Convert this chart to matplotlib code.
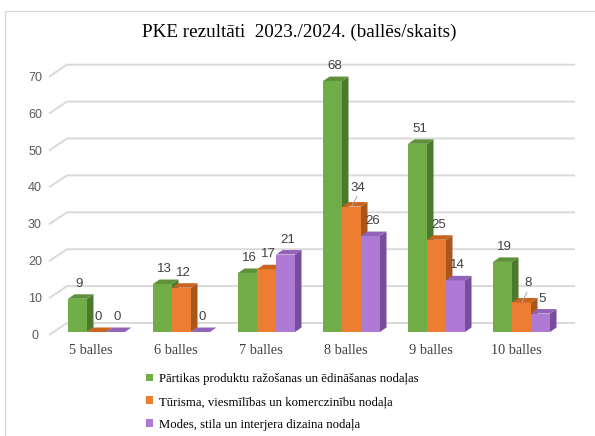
import matplotlib
matplotlib.use("Agg")
import matplotlib.pyplot as plt
from matplotlib.patches import Polygon, Patch, Rectangle

# data
categories = ["5 balles", "6 balles", "7 balles", "8 balles", "9 balles", "10 balles"]
series_names = ["Pārtikas produktu ražošanas un ēdināšanas nodaļas",
                "Tūrisma, viesmīlības un komerczinību nodaļa",
                "Modes, stila un interjera dizaina nodaļa"]
partika = [9, 13, 16, 68, 51, 19]
turisms = [0, 12, 17, 34, 25, 8]
modes = [0, 0, 21, 26, 14, 5]
y_ticks = [0, 10, 20, 30, 40, 50, 60, 70]

# labels pulled away from the bar top with a small leader line
leader_labels = [(1, 3), (1, 5)]   # (series, category)

front_cols = ["#70AD47", "#ED7D31", "#AE7AD6"]
side_cols = ["#4B7A2E", "#A9561D", "#7A4C9C"]
top_cols = ["#5E9139", "#C9631F", "#9263B8"]

W, H = 595, 436
PXX = 85.0      # pixels per category
PXY = 3.69      # pixels per value unit
X0 = 96.5       # pixel x of first group centre
Y0 = 332.0      # pixel y of value 0 (front)


def dx(p):
    return p / PXX


def dy(p):
    return p / PXY


fig = plt.figure(figsize=(W / 100, H / 100), dpi=100)
ax = fig.add_axes([0, 0, 1, 1])
ax.set_xlim(-X0 / PXX, (W - X0) / PXX)
ax.set_ylim(-(H - Y0) / PXY, Y0 / PXY)
ax.axis("off")

# chart border
fig.patches.append(Rectangle((5 / W, -0.1), 1.2, 1 - 11 / H + 0.1,
                             transform=fig.transFigure, fill=False,
                             edgecolor="#d9d9d9", linewidth=1.0))

serif = ["Liberation Serif", "DejaVu Serif"]
narrow = ["Liberation Sans Narrow", "Liberation Sans", "DejaVu Sans"]

# gridlines on the back wall, with the perspective stub on the left
x_front = dx(49 - X0)
x_back = dx(67 - X0)
x_end = dx(575 - X0)
for v in y_ticks:
    ax.plot([x_front, x_back, x_end], [v - dy(3), v + dy(9), v + dy(9)],
            color="#d9d9d9", linewidth=1.4, zorder=1, solid_capstyle="butt")
    ax.text(dx(35 - X0), v - dy(4), str(v), ha="center", va="center",
            fontsize=9, color="#595959", family=narrow)

w = dx(19)
DX = dx(6.5)
DY = dy(4.5)
all_series = [partika, turisms, modes]

for j in range(len(all_series)):
    vals = all_series[j]
    xs = [i + (j - 1) * w for i in range(len(categories))]
    ax.bar(xs, vals, width=w, color=front_cols[j], zorder=3 + j, linewidth=0)
    for i in range(len(vals)):
        c = xs[i]
        v = vals[i]
        left = c - w / 2
        right = c + w / 2
        side = [(right, 0), (right + DX, DY), (right + DX, v + DY), (right, v)]
        top = [(left, v), (right, v), (right + DX, v + DY), (left + DX, v + DY)]
        ax.add_patch(Polygon(side, closed=True, facecolor=side_cols[j],
                             edgecolor="none", zorder=3 + j))
        ax.add_patch(Polygon(top, closed=True, facecolor=top_cols[j],
                             edgecolor="none", zorder=3 + j))
        if (j, i) in leader_labels:
            ax.text(c + dx(6.5), v + dy(19), str(v), ha="center", va="center",
                    fontsize=9.5, color="#404040", family=narrow, zorder=10)
            ax.plot([c + dx(5.5), c + dx(0.5)], [v + dy(10), v + dy(1)],
                    color="#a6a6a6", linewidth=0.7, zorder=10)
        else:
            ax.text(c + dx(2), v + dy(15), str(v), ha="center", va="center",
                    fontsize=9.5, color="#404040", family=narrow, zorder=10)

for i in range(len(categories)):
    ax.text(i - dx(5.5), -dy(18), categories[i], ha="center", va="center",
            fontsize=10.3, color="#404040", family=serif)

fig.text(299 / W, 1 - 32 / H, "PKE rezultāti  2023./2024. (ballēs/skaits)",
         ha="center", va="center", fontsize=13.8, color="#000000", family=serif)

handles = [Patch(facecolor=front_cols[j], edgecolor="none")
           for j in range(len(series_names))]
ax.legend(handles, series_names, loc="upper left",
          bbox_to_anchor=(146 / W, 1 - 373 / H), bbox_transform=fig.transFigure,
          frameon=False, borderaxespad=0, borderpad=0,
          handlelength=0.55, handleheight=0.55, handletextpad=0.45,
          labelspacing=0.85, prop={"family": serif, "size": 9.2})

fig.savefig("out.png", dpi=100)
